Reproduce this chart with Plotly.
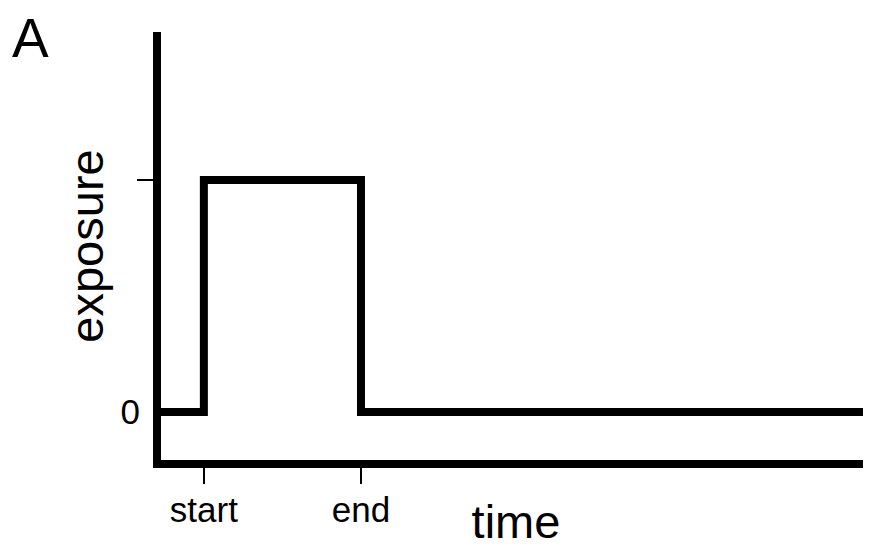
import plotly.graph_objects as go

# Step exposure profile: off, on between start and end, off again
time = [0, 3, 3, 14, 14, 50]
exposure = [0, 0, 1, 1, 0, 0]

x_tickvals = [3, 14]
x_ticktext = ['start', 'end']
y_tickvals = [0]
y_ticktext = ['0']
y_marks = [1]

font = 'Liberation Sans, Arial, sans-serif'

fig = go.Figure(go.Scatter(
    x=time, y=exposure,
    mode='lines',
    line=dict(color='black', width=8),
    showlegend=False
))

# page body adds an 8px margin, so the figure is sized to fill the rest
fig.update_layout(
    width=863, height=540,
    margin=dict(l=153, r=0, t=24, b=88, autoexpand=False),
    plot_bgcolor='white',
    paper_bgcolor='white',
    font=dict(family=font, color='black'),
)

fig.update_xaxes(
    range=[0, 49.7], automargin=False,
    showgrid=False, zeroline=False,
    showline=True, linecolor='black', linewidth=8,
    tickvals=x_tickvals, ticktext=x_ticktext,
    ticks='outside', ticklen=16, tickwidth=2, tickcolor='black',
    tickfont=dict(size=35), ticklabelstandoff=-4,
    title=dict(text='time', font=dict(size=47), standoff=0),
)

fig.update_yaxes(
    range=[-0.207, 1.638], automargin=False,
    showgrid=False, zeroline=False,
    showline=True, linecolor='black', linewidth=8,
    tickvals=y_tickvals, ticktext=y_ticktext,
    ticks='', tickfont=dict(size=35),
    ticklabelstandoff=6,
    minor=dict(tickvals=y_marks, ticks='outside', ticklen=16,
               tickwidth=2, tickcolor='black', showgrid=False),
    title=dict(text='exposure', font=dict(size=47), standoff=5),
)

fig.add_annotation(
    text='A', xref='paper', yref='paper',
    x=-0.2127, y=1.062, xanchor='left', yanchor='top',
    showarrow=False, font=dict(size=55),
)

fig.write_html('out.html')
